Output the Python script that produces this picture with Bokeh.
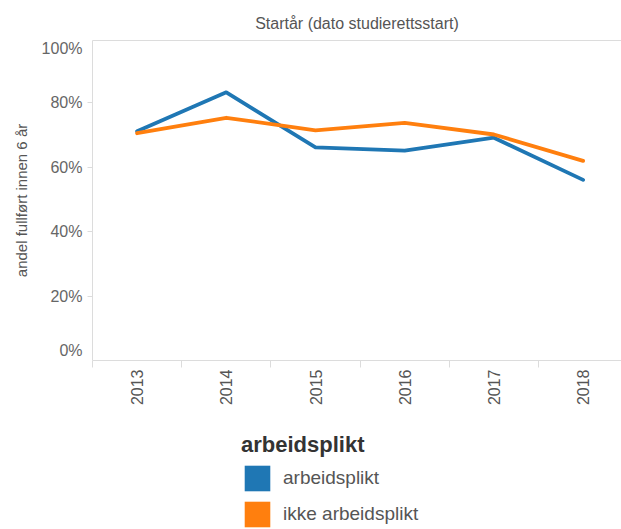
import math
from bokeh.plotting import figure
from bokeh.layouts import column
from bokeh.models import (Range1d, FixedTicker, NumeralTickFormatter, Legend,
                          LegendItem, LinearAxis)
from bokeh.embed import file_html
from bokeh.resources import INLINE

# ---- data ----
years = ["2013", "2014", "2015", "2016", "2017", "2018"]
arbeidsplikt = [0.712, 0.833, 0.662, 0.652, 0.692, 0.561]
ikke_arbeidsplikt = [0.706, 0.754, 0.715, 0.738, 0.702, 0.620]
y_ticks = [0.2, 0.4, 0.6, 0.8]
series_names = ["arbeidsplikt", "ikke arbeidsplikt"]
colors = ["#1f77b4", "#ff7f0e"]

FONT = "Liberation Sans"
GRID = "#dcdcdc"
xs = list(range(len(years)))
Y_TOP = 0.994
# Tableau keeps the end labels inside the pane
y_end_labels = {0.031: "0%", 0.969: "100%"}

p = figure(width=621, height=420, output_backend="svg", toolbar_location=None,
           x_range=Range1d(-0.5, -0.5 + 529 / 89.2), y_range=Range1d(0, Y_TOP),
           x_axis_location=None, y_axis_location=None,
           min_border_left=92, min_border_right=0, min_border_top=40,
           min_border_bottom=60)
p.outline_line_color = None
p.grid.visible = False
p.background_fill_color = "white"
p.border_fill_color = "white"

p.title.text = "Startår (dato studierettsstart)"
p.title.align = "center"
p.title.offset = 4
p.title.text_font = FONT
p.title.text_font_size = "16px"
p.title.text_font_style = "normal"
p.title.text_color = "#555555"
p.title.standoff = 17

# y axis
ya = LinearAxis(ticker=FixedTicker(ticks=sorted(list(y_end_labels) + y_ticks),
                                   minor_ticks=y_ticks))
ya.formatter = NumeralTickFormatter(format="0%")
ya.major_label_overrides = y_end_labels
ya.axis_line_color = GRID
ya.major_tick_line_color = None
ya.major_tick_out = 5
ya.major_tick_in = 0
ya.minor_tick_line_color = GRID
ya.minor_tick_out = 5
ya.minor_tick_in = 0
ya.major_label_standoff = 5
ya.major_label_text_font = FONT
ya.major_label_text_font_size = "16px"
ya.major_label_text_color = "#666666"
ya.axis_label = "andel fullført innen 6 år"
ya.axis_label_text_font = FONT
ya.axis_label_text_font_size = "15px"
ya.axis_label_text_font_style = "normal"
ya.axis_label_text_color = "#555555"
ya.axis_label_standoff = 9
p.add_layout(ya, "left")

# header border line (pane top)
top = LinearAxis(ticker=FixedTicker(ticks=[], minor_ticks=[]))
top.axis_line_color = GRID
top.major_tick_out = 0
top.major_tick_in = 0
top.minor_tick_out = 0
top.minor_tick_in = 0
top.major_label_standoff = 0
p.add_layout(top, "above")

# x axis
xa = LinearAxis(ticker=FixedTicker(ticks=xs, minor_ticks=[x - 0.5 for x in xs] + [len(xs) - 0.5]))
xa.major_label_overrides = {i: y for i, y in enumerate(years)}
xa.major_label_orientation = math.pi / 2
xa.axis_line_color = GRID
xa.major_tick_line_color = None
xa.major_tick_out = 0
xa.major_tick_in = 0
xa.minor_tick_line_color = GRID
xa.minor_tick_out = 7
xa.minor_tick_in = 0
xa.major_label_standoff = 2
xa.major_label_text_font = FONT
xa.major_label_text_font_size = "16px"
xa.major_label_text_color = "#555555"
p.add_layout(xa, "below")

# lines
for vals, c in zip([arbeidsplikt, ikke_arbeidsplikt], colors):
    p.line(xs, vals, line_color=c, line_width=3.8, line_cap="round", line_join="round")

# legend panel
q = figure(width=621, height=109, output_backend="svg", toolbar_location=None,
           x_range=Range1d(0, 1), y_range=Range1d(0, 1),
           x_axis_location=None, y_axis_location=None,
           min_border_left=0, min_border_right=0, min_border_top=0,
           min_border_bottom=0)
q.outline_line_color = None
q.grid.visible = False

items = []
nan = float("nan")
for name, c in zip(series_names, colors):
    # legend proxy only (NaN geometry, never drawn in the pane)
    r = q.quad(left=[nan], right=[nan], top=[nan], bottom=[nan],
               fill_color=c, line_color=None)
    items.append(LegendItem(label=name, renderers=[r]))

legend = Legend(items=items, location=(149, -1), title="arbeidsplikt",
                title_text_font=FONT, title_text_font_size="22px",
                title_text_font_style="bold", title_text_color="#333333",
                title_standoff=4,
                label_text_font=FONT, label_text_font_size="19px",
                label_text_color="#555555", label_standoff=10,
                glyph_width=32, glyph_height=32, spacing=4, padding=0, margin=0,
                border_line_color=None, background_fill_alpha=0)
q.add_layout(legend, "center")

open("out.html", "w").write(file_html(column(p, q), INLINE))
